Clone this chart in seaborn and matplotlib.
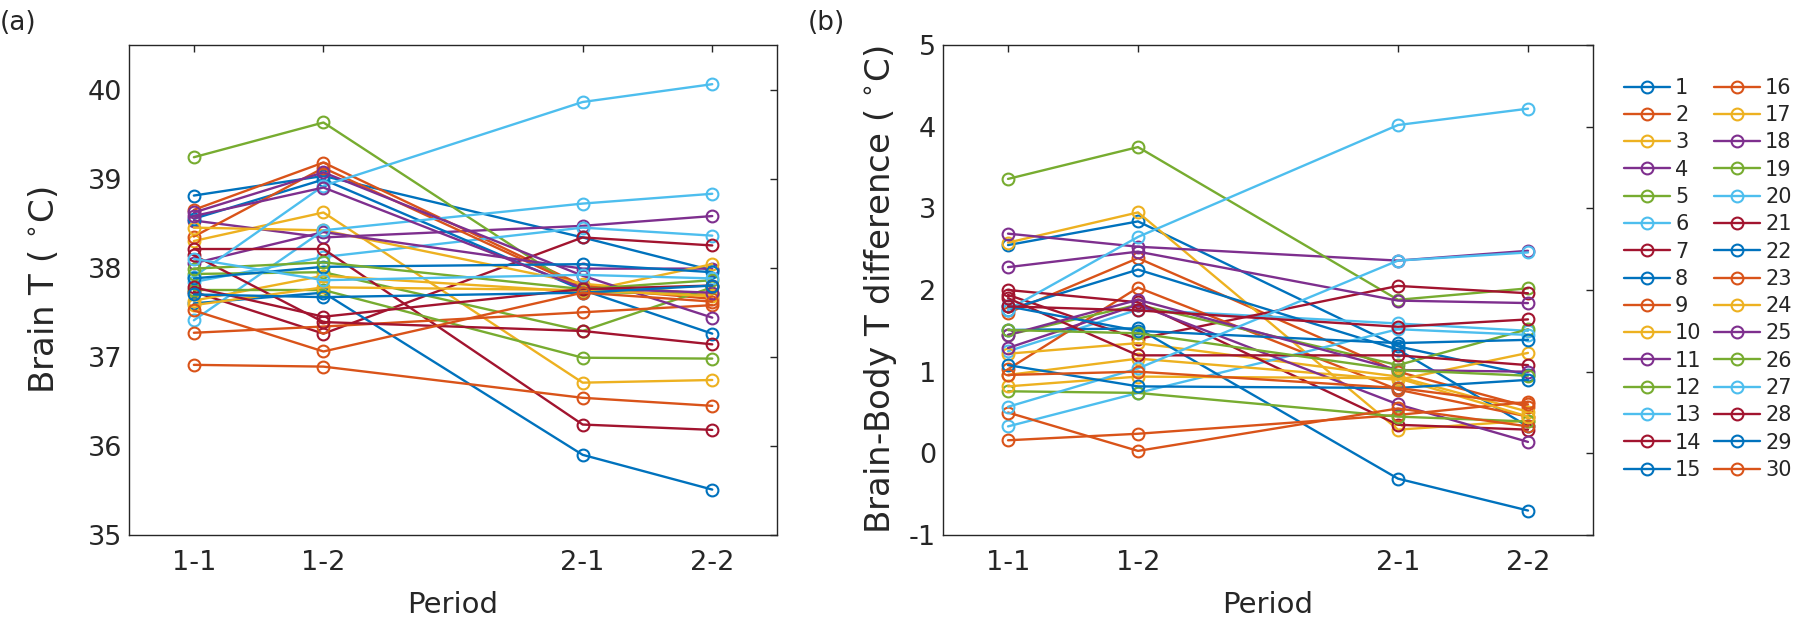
import matplotlib
matplotlib.use('Agg')
import matplotlib.pyplot as plt
import seaborn as sns
import pandas as pd

# ── Data ───────────────────────────────────────────────────────────────────
periods = ['1-1', '1-2', '2-1', '2-2']
period_pos = [1, 2, 4, 5]
subjects = list(range(1, 31))

# Brain T (deg C), one row per subject, columns = periods
brain_t = [
    [38.81, 39.03, 38.34, 37.97],   # 1
    [38.65, 39.18, 37.80, 37.70],   # 2
    [38.30, 38.62, 36.71, 36.74],   # 3
    [38.53, 38.34, 38.47, 38.58],   # 4
    [39.24, 39.63, 37.73, 37.70],   # 5
    [37.84, 38.12, 38.45, 38.36],   # 6
    [37.73, 37.26, 38.34, 38.25],   # 7
    [38.55, 38.99, 37.75, 37.26],   # 8
    [38.35, 39.12, 37.78, 37.65],   # 9
    [38.45, 38.42, 37.82, 37.70],   # 10
    [38.05, 38.40, 37.99, 37.99],   # 11
    [37.93, 37.95, 37.29, 37.78],   # 12
    [37.41, 38.42, 38.72, 38.83],   # 13
    [38.21, 38.21, 36.24, 36.18],   # 14
    [37.60, 37.72, 35.90, 35.51],   # 15
    [37.27, 37.34, 37.50, 37.58],   # 16
    [37.63, 37.91, 37.73, 38.04],   # 17
    [38.62, 39.07, 37.91, 37.44],   # 18
    [37.75, 37.75, 36.99, 36.98],   # 19
    [37.90, 38.92, 39.86, 40.06],   # 20
    [38.14, 37.39, 37.29, 37.14],   # 21
    [37.88, 38.01, 38.04, 37.95],   # 22
    [36.91, 36.89, 36.54, 36.45],   # 23
    [37.58, 37.78, 37.75, 37.68],   # 24
    [38.58, 38.90, 37.77, 37.72],   # 25
    [37.99, 38.06, 37.76, 37.86],   # 26
    [38.10, 37.86, 37.92, 37.88],   # 27
    [37.78, 37.45, 37.76, 37.80],   # 28
    [37.70, 37.67, 37.72, 37.80],   # 29
    [37.52, 37.06, 37.72, 37.62],   # 30
]

# Brain-Body T difference (deg C)
diff_t = [
    [2.55, 2.84, 1.31, 0.96],   # 1
    [1.72, 2.39, 1.00, 0.57],   # 2
    [2.58, 2.95, 0.29, 0.40],   # 3
    [2.69, 2.53, 2.36, 2.48],   # 4
    [3.36, 3.75, 1.88, 2.02],   # 5
    [1.25, 1.76, 1.59, 1.50],   # 6
    [1.94, 1.40, 2.05, 1.96],   # 7
    [1.76, 2.25, 1.27, 0.33],   # 8
    [1.03, 2.03, 0.78, 0.45],   # 9
    [1.22, 1.35, 0.94, 0.51],   # 10
    [2.28, 2.47, 1.87, 1.84],   # 11
    [1.45, 1.82, 1.08, 1.52],   # 12
    [0.33, 0.74, 1.52, 1.45],   # 13
    [2.00, 1.85, 0.35, 0.29],   # 14
    [1.51, 1.53, -0.31, -0.70], # 15
    [0.16, 0.24, 0.47, 0.63],   # 16
    [0.96, 1.16, 0.90, 1.23],   # 17
    [1.29, 1.82, 0.60, 0.14],   # 18
    [0.76, 0.74, 0.45, 0.39],   # 19
    [1.76, 2.65, 4.02, 4.22],   # 20
    [1.90, 1.20, 1.20, 1.08],   # 21
    [1.80, 1.50, 1.35, 1.39],   # 22
    [0.50, 0.03, 0.55, 0.33],   # 23
    [0.82, 0.94, 0.92, 0.45],   # 24
    [1.45, 1.88, 1.02, 1.00],   # 25
    [1.51, 1.47, 1.02, 0.95],   # 26
    [0.57, 1.04, 2.36, 2.46],   # 27
    [1.80, 1.75, 1.55, 1.64],   # 28
    [1.08, 0.82, 0.80, 0.90],   # 29
    [0.96, 1.00, 0.80, 0.60],   # 30
]

matlab_colors = ['#0072BD', '#D95319', '#EDB120', '#7E2F8E',
                 '#77AC30', '#4DBEEE', '#A2142F']

# ── Long table ─────────────────────────────────────────────────────────────
rows = []
for s, a_vals, b_vals in zip(subjects, brain_t, diff_t):
    for p, a, b in zip(period_pos, a_vals, b_vals):
        rows.append({'subject': str(s), 'pos': p, 'brain': a, 'diff': b})
df = pd.DataFrame(rows)
palette = {str(s): matlab_colors[(s - 1) % 7] for s in subjects}
order = [str(s) for s in subjects]

sns.set_style('white')
plt.rcParams['font.family'] = ['DejaVu Sans']
plt.rcParams['axes.unicode_minus'] = False

fig = plt.figure(figsize=(18, 6.29), dpi=100)
ax1 = fig.add_axes([0.0717, 0.1494, 0.3600, 0.7791])
ax2 = fig.add_axes([0.5239, 0.1494, 0.3611, 0.7791])

TXT = '#262626'


def draw(ax, col):
    sns.lineplot(data=df, x='pos', y=col, hue='subject', hue_order=order,
                 palette=palette, marker='o', markersize=8.5, linewidth=1.7,
                 errorbar=None, legend=False, ax=ax)
    for ln in ax.get_lines():
        ln.set_markerfacecolor('none')
        ln.set_markeredgecolor(ln.get_color())
        ln.set_markeredgewidth(1.5)
    ax.set_xlim(0.5, 5.5)
    ax.set_xticks(period_pos)
    ax.set_xticklabels(periods)
    ax.set_xlabel('Period', fontsize=21, color=TXT)
    ax.xaxis.set_label_coords(0.5, -0.115)
    ax.tick_params(direction='in', length=5, width=1, colors=TXT,
                   labelsize=19.5, top=True, right=True, labelcolor=TXT)
    ax.tick_params(axis='x', pad=11)
    ax.tick_params(axis='y', pad=5)
    for sp in ax.spines.values():
        sp.set_color(TXT)
        sp.set_linewidth(1.0)


draw(ax1, 'brain')
ax1.set_ylim(35, 40.5)
ax1.set_yticks([35, 36, 37, 38, 39, 40])
ax1.set_ylabel('Brain T ( $^{\\circ}$C)', fontsize=24.5, color=TXT)
ax1.yaxis.set_label_coords(-0.105, 0.5)

draw(ax2, 'diff')
ax2.set_ylim(-1, 5)
ax2.set_yticks([-1, 0, 1, 2, 3, 4, 5])
ax2.set_ylabel('Brain-Body T difference ( $^{\\circ}$C)', fontsize=24.5, color=TXT)
ax2.yaxis.set_label_coords(-0.068, 0.5)

handles = ax2.get_lines()[:30]
ax2.legend(handles, order, ncol=2, loc='upper left', bbox_to_anchor=(1.035, 0.95),
           frameon=False, fontsize=15, labelspacing=0.35, handlelength=2.2,
           handletextpad=0.25, columnspacing=0.6, borderaxespad=0)

fig.text(0.0, 0.963, '(a)', fontsize=19, va='center', ha='left', color=TXT)
fig.text(0.449, 0.963, '(b)', fontsize=19, va='center', ha='left', color=TXT)

fig.savefig('out.png', dpi=100, facecolor='white')
